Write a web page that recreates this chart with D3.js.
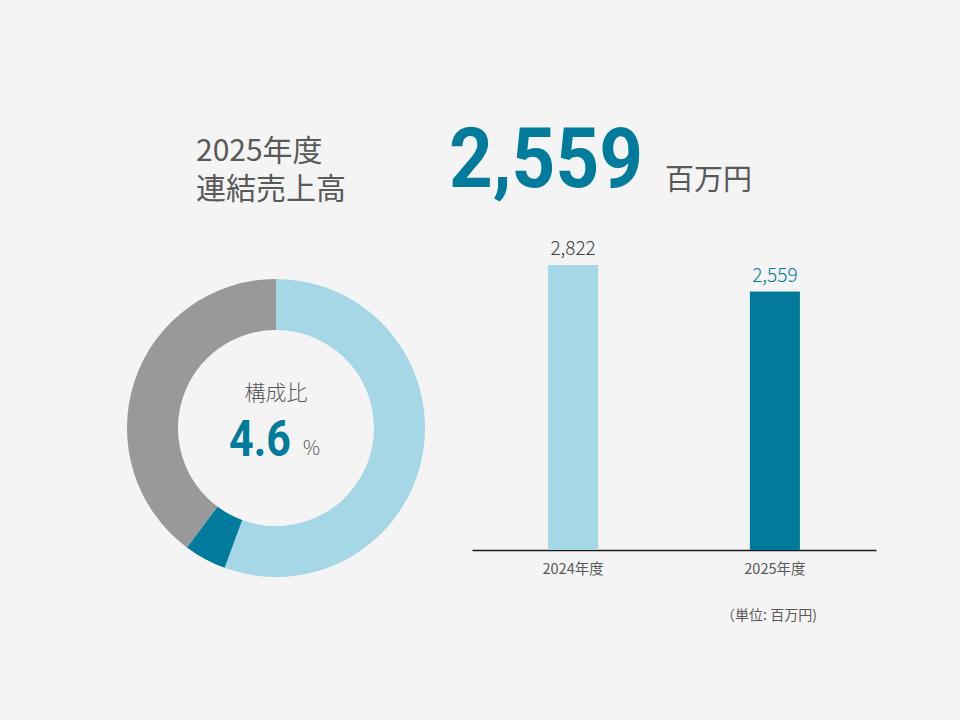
<!DOCTYPE html>
<html>
<head>
<meta charset="utf-8">
<script src="https://cdn.jsdelivr.net/npm/d3@7"></script>
<style>
  body { margin: 0; background: #f4f4f4; }
  text { font-family: "Noto Sans CJK JP", "Noto Sans", sans-serif; }
</style>
</head>
<body>
<div id="my_dataviz"></div>
<script>
// headline
var titleLines = ["2025年度", "連結売上高"];
var totalValue = "2,559";
var totalUnit = "百万円";

// donut (composition)
var sliceNames = ["その他A", "当セグメント", "その他B"];
var sliceValues = [55.6, 4.6, 39.8];
var sliceColors = ["#a5d7e6", "#007b9c", "#999999"];
var centerLabel = "構成比";
var centerValue = "4.6";

// bars
var years = ["2024年度", "2025年度"];
var sales = [2822, 2559];
var barColors = ["#a5d7e6", "#007b9c"];
var labelColors = ["#404040", "#007b9c"];
var unitNote = "（単位: 百万円)";

var width = 960, height = 720;

var svg = d3.select("#my_dataviz")
  .append("svg")
    .attr("width", width)
    .attr("height", height);

svg.append("rect")
  .attr("width", width)
  .attr("height", height)
  .attr("fill", "#f4f4f4");

// ---- title block (one text, two lines)
svg.append("text")
  .attr("font-size", 30)
  .attr("fill", "#595959")
  .selectAll("tspan")
  .data(titleLines)
  .enter()
  .append("tspan")
    .attr("x", 196)
    .attr("y", function(d, i) { return 161 + i * 38; })
    .text(function(d) { return d; });

svg.append("text")
  .attr("transform", "translate(449,187) scale(0.92,1)")
  .style("font-family", "Roboto, 'Liberation Sans', sans-serif")
  .attr("font-weight", 700)
  .attr("font-size", 83)
  .attr("fill", "#007b9c")
  .text(totalValue);

svg.append("text")
  .attr("x", 665)
  .attr("y", 190)
  .attr("font-size", 29)
  .attr("fill", "#595959")
  .text(totalUnit);

// ---- donut
var cx = 276, cy = 428;
var pie = d3.pie().sort(null).value(function(d) { return d; });
var arc = d3.arc().innerRadius(98).outerRadius(149);

var donut = svg.append("g")
  .attr("transform", "translate(" + cx + "," + cy + ")");

donut.selectAll("slice")
  .data(pie(sliceValues))
  .enter()
  .append("path")
    .attr("d", arc)
    .attr("fill", function(d, i) { return sliceColors[i]; });

donut.append("text")
  .attr("x", 0)
  .attr("y", -28)
  .attr("text-anchor", "middle")
  .attr("font-size", 21)
  .attr("font-weight", 300)
  .attr("fill", "#595959")
  .text(centerLabel);

donut.append("text")
  .attr("transform", "translate(-47,28) scale(0.86,1)")
  .style("font-family", "Roboto, 'Liberation Sans', sans-serif")
  .attr("font-weight", 700)
  .attr("font-size", 50)
  .attr("fill", "#007b9c")
  .text(centerValue);

donut.append("text")
  .attr("x", 26)
  .attr("y", 27)
  .attr("font-size", 19)
  .attr("font-weight", 300)
  .attr("fill", "#595959")
  .text("％");

// ---- bars
var base = 550;
var xx = d3.scaleBand()
  .range([472, 876])
  .domain(years)
  .paddingInner(0.752)
  .paddingOuter(0.377);

var yy = d3.scaleLinear()
  .domain([0, 3000])
  .range([base, base - 303]);

var xAxis = svg.append("g")
  .attr("transform", "translate(0," + base + ")")
  .call(d3.axisBottom(xx).tickSize(0).tickPadding(14));
xAxis.select(".domain")
  .attr("stroke", "#1a1a1a")
  .attr("stroke-width", 1.5);
xAxis.selectAll("text")
  .style("font-family", "'Noto Sans CJK JP', sans-serif")
  .attr("font-size", 14.5)
  .attr("fill", "#595959");

svg.selectAll("mybar")
  .data(sales)
  .enter()
  .append("rect")
    .attr("x", function(d, i) { return xx(years[i]); })
    .attr("y", function(d) { return yy(d); })
    .attr("width", xx.bandwidth())
    .attr("height", function(d) { return base - yy(d); })
    .attr("fill", function(d, i) { return barColors[i]; });

svg.selectAll("barlabel")
  .data(sales)
  .enter()
  .append("text")
    .attr("x", function(d, i) { return xx(years[i]) + xx.bandwidth() / 2; })
    .attr("y", function(d) { return yy(d) - 10; })
    .attr("text-anchor", "middle")
    .attr("font-size", 19)
    .attr("font-weight", 300)
    .attr("fill", function(d, i) { return labelColors[i]; })
    .text(function(d) { return d3.format(",")(d); });

svg.append("text")
  .attr("x", 769)
  .attr("y", 620)
  .attr("text-anchor", "middle")
  .attr("font-size", 14)
  .attr("fill", "#595959")
  .text(unitNote);
</script>
</body>
</html>
